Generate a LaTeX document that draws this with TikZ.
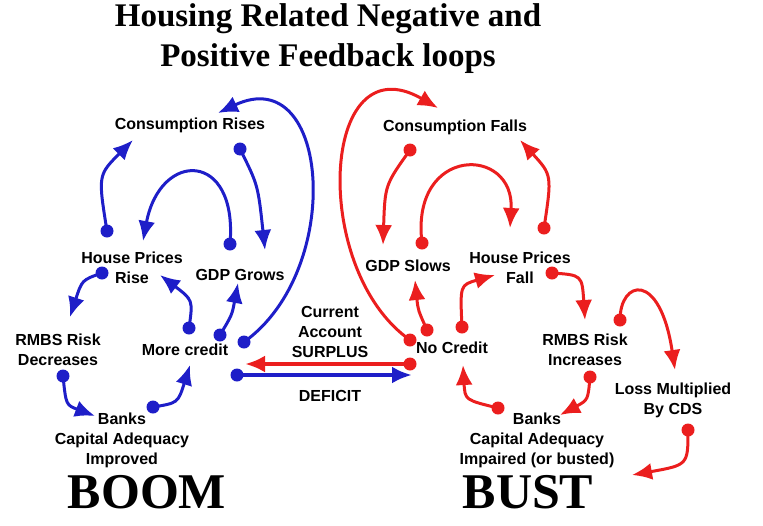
\documentclass[tikz,border=0pt]{standalone}
\usepackage{fontspec}
\setmainfont{Liberation Serif}
\setsansfont{Liberation Sans}
\usetikzlibrary{arrows.meta}
\definecolor{myblue}{RGB}{30,30,200}
\definecolor{myred}{RGB}{235,30,30}
\tikzset{
  lbl/.style={font=\sffamily\bfseries\fontsize{16}{20}\selectfont,align=center},
  big/.style={font=\rmfamily\bfseries\fontsize{50}{52}\selectfont},
  ttl/.style={font=\rmfamily\bfseries\fontsize{33}{40}\selectfont,align=center},
  bdot/.style={circle,fill=myblue,inner sep=0pt,minimum size=13pt},
  rdot/.style={circle,fill=myred,inner sep=0pt,minimum size=13pt},
  bl/.style={myblue,line width=3pt,-{Latex[length=20pt,width=17pt]}},
  rl/.style={myred,line width=3pt,-{Latex[length=20pt,width=17pt]}}
}
\begin{document}
\begin{tikzpicture}[x=1pt,y=-1pt]
	\useasboundingbox (0,0) rectangle (763,525);
	% titles
	\node[ttl] (title) at (328,39) {Housing Related Negative and\\Positive Feedback loops};
	\node[big] (boom) at (147,492) {BOOM};
	\node[big] (bust) at (528,492) {BUST};
	% boom labels
	\node[lbl] (crise) at (190,125) {Consumption Rises};
	\node[lbl] (hprise) at (132,268) {House Prices\\Rise};
	\node[lbl] (gdpg) at (240,275) {GDP Grows};
	\node[lbl] (rmbsd) at (58,350) {RMBS Risk\\Decreases};
	\node[lbl] (morec) at (185,350) {More credit};
	\node[lbl] (banksi) at (122,440) {Banks\\Capital Adequacy\\Improved};
	% bust labels
	\node[lbl] (cfall) at (455,127) {Consumption Falls};
	\node[lbl] (gdps) at (408,266) {GDP Slows};
	\node[lbl] (hpfall) at (520,268) {House Prices\\Fall};
	\node[lbl] (noc) at (452,348) {No Credit};
	\node[lbl] (rmbsi) at (585,350) {RMBS Risk\\Increases};
	\node[lbl] (banksb) at (537,440) {Banks\\Capital Adequacy\\Impaired (or busted)};
	\node[lbl] (cds) at (673,400) {Loss Multiplied\\By CDS};
	% current account
	\node[lbl] (surplus) at (330,332) {Current\\Account\\SURPLUS};
	\node[lbl] (deficit) at (330,396) {DEFICIT};

	% blue loops
	\node[bdot] (b1) at (107,231) {};
	\node[bdot] (b2) at (240,149) {};
	\node[bdot] (b3) at (230,244) {};
	\node[bdot] (b4) at (102,273) {};
	\node[bdot] (b5) at (63,376) {};
	\node[bdot] (b6) at (153,407) {};
	\node[bdot] (b7) at (189,328) {};
	\node[bdot] (b8) at (220,335) {};
	\node[bdot] (b9) at (244,342) {};
	\node[bdot] (b10) at (237,375) {};
	\draw[bl] (b1.center) .. controls (98,175) .. (133,140);
	\draw[bl] (b2.center) .. controls (258,185) .. (265,250);
	\draw[bl] (b3.center) .. controls (238,150) and (160,150) .. (143,241);
	\draw[bl] (b4.center) .. controls (82,280) .. (70,317);
	\draw[bl] (b5.center) .. controls (66,405) .. (95,416);
	\draw[bl] (b6.center) .. controls (178,403) .. (190,365);
	\draw[bl] (b7.center) .. controls (193,300) .. (160,275);
	\draw[bl] (b8.center) .. controls (232,315) .. (238,283);
	\draw[bl] (b9.center) .. controls (345,270) and (330,60) .. (218,113);
	\draw[bl,line width=4pt] (b10.center) -- (412,375);

	% red loops
	\node[rdot] (r1) at (410,150) {};
	\node[rdot] (r2) at (544,228) {};
	\node[rdot] (r3) at (422,243) {};
	\node[rdot] (r4) at (410,340) {};
	\node[rdot] (r5) at (427,330) {};
	\node[rdot] (r6) at (462,327) {};
	\node[rdot] (r7) at (552,273) {};
	\node[rdot] (r8) at (620,320) {};
	\node[rdot] (r9) at (590,377) {};
	\node[rdot] (r10) at (498,408) {};
	\node[rdot] (r11) at (688,430) {};
	\node[rdot] (r12) at (410,364) {};
	\draw[rl] (r1.center) .. controls (385,185) .. (383,245);
	\draw[rl] (r2.center) .. controls (552,175) .. (520,140);
	\draw[rl] (r3.center) .. controls (410,145) and (515,145) .. (510,228);
	\draw[rl] (r4.center) .. controls (310,270) and (320,40) .. (438,108);
	\draw[rl] (r5.center) .. controls (418,310) .. (415,280);
	\draw[rl] (r6.center) .. controls (460,285) .. (495,275);
	\draw[rl] (r7.center) .. controls (582,275) .. (585,320);
	\draw[rl] (r8.center) .. controls (620,280) and (660,270) .. (675,370);
	\draw[rl] (r9.center) .. controls (588,400) .. (560,415);
	\draw[rl] (r10.center) .. controls (465,400) .. (463,365);
	\draw[rl] (r11.center) .. controls (688,465) .. (632,475);
	\draw[rl,line width=4pt] (r12.center) -- (245,364);
\end{tikzpicture}
\end{document}
